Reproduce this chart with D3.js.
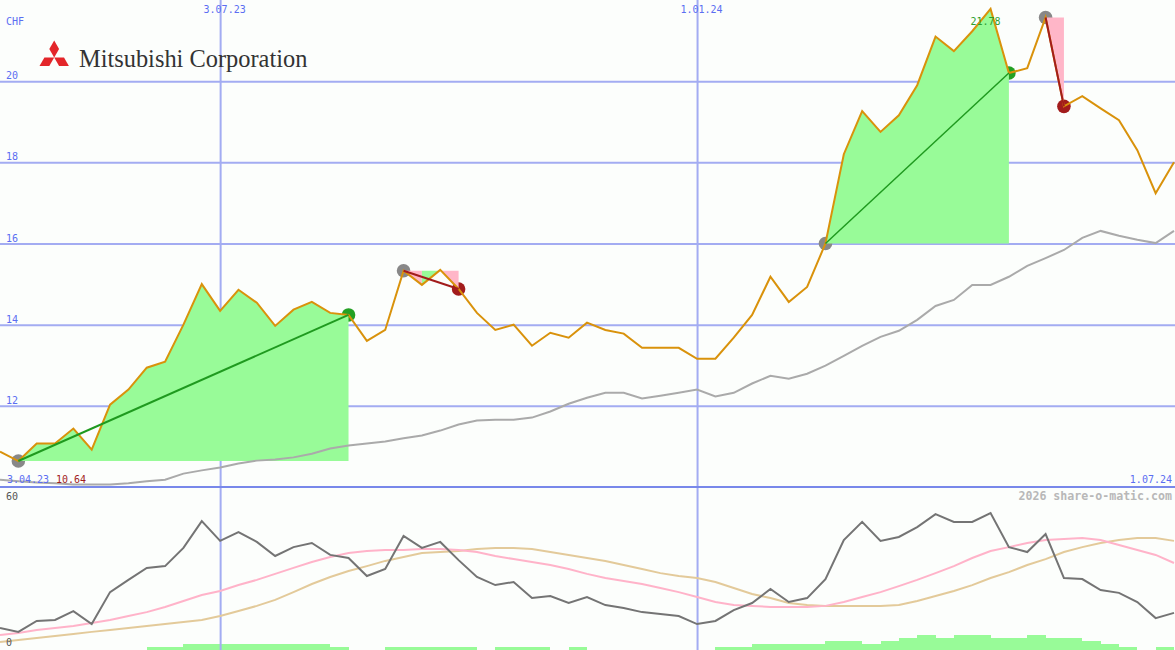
<!DOCTYPE html>
<html><head><meta charset="utf-8">
<script src="https://cdn.jsdelivr.net/npm/d3@7"></script>
<style>html,body{margin:0;padding:0;background:#fcfefc;overflow:hidden}</style>
</head><body><svg id="c" width="1175" height="650"></svg>
<script>
// ---- data ----
const dates = ["2023-04-10","2023-04-17","2023-04-24","2023-05-01","2023-05-08","2023-05-15","2023-05-22","2023-05-29",
"2023-06-05","2023-06-12","2023-06-19","2023-06-26","2023-07-03","2023-07-10","2023-07-17","2023-07-24","2023-07-31",
"2023-08-07","2023-08-14","2023-08-21","2023-08-28","2023-09-04","2023-09-11","2023-09-18","2023-09-25","2023-10-02",
"2023-10-09","2023-10-16","2023-10-23","2023-10-30","2023-11-06","2023-11-13","2023-11-20","2023-11-27","2023-12-04",
"2023-12-11","2023-12-18","2023-12-25","2024-01-01","2024-01-08","2024-01-15","2024-01-22","2024-01-29","2024-02-05",
"2024-02-12","2024-02-19","2024-02-26","2024-03-04","2024-03-11","2024-03-18","2024-03-25","2024-04-01","2024-04-08",
"2024-04-15","2024-04-22","2024-04-29","2024-05-06","2024-05-13","2024-05-20","2024-05-27","2024-06-03","2024-06-10",
"2024-06-17","2024-06-24","2024-07-01"];
const price = [10.87,10.64,11.07,11.07,11.44,10.92,12.03,12.40,12.94,13.09,
14.0,15.0,14.34,14.86,14.54,13.97,14.37,14.56,14.29,14.24,
13.60,13.87,15.33,14.98,15.35,14.88,14.29,13.87,14.0,13.48,
13.80,13.68,14.05,13.87,13.78,13.43,13.43,13.43,13.16,13.16,
13.68,14.24,15.18,14.56,14.93,16.0,18.2,19.26,18.75,19.16,
19.9,21.1,20.74,21.23,21.78,20.2,20.32,21.57,19.38,19.63,
19.33,19.04,18.3,17.24,18.0];
const priceAvg = [10.18,10.14,10.11,10.09,10.06,10.06,10.06,10.09,10.14,10.18,
10.33,10.41,10.48,10.58,10.65,10.68,10.73,10.82,10.95,11.02,
11.07,11.12,11.20,11.27,11.39,11.54,11.64,11.66,11.66,11.71,
11.86,12.05,12.20,12.32,12.32,12.18,12.25,12.32,12.40,12.23,
12.32,12.55,12.74,12.67,12.79,12.99,13.23,13.48,13.70,13.85,
14.12,14.46,14.61,14.98,14.98,15.18,15.45,15.64,15.84,16.14,
16.31,16.19,16.09,16.01,16.31];
const oscMain = [7.7,6.2,10.4,10.8,14.2,9.2,21.5,26.2,30.8,31.5,
38.5,48.8,41.2,44.6,40.8,35.4,38.8,40.4,35.8,34.6,
27.7,30.4,43.1,38.5,40.8,33.8,27.3,24.2,25.4,19.2,
20.0,17.3,19.6,16.5,15.4,13.8,13.1,12.3,9.2,10.4,
14.6,17.3,22.7,17.7,19.2,26.5,41.5,48.5,41.2,42.7,
46.5,51.5,48.5,48.5,51.9,38.8,36.9,43.8,26.9,26.5,
22.3,21.2,17.7,11.5,13.5];
const oscPink = [5.0,5.8,6.9,7.7,8.5,9.6,10.8,12.3,13.8,15.8,
18.1,20.4,21.9,24.2,26.2,28.5,30.8,33.1,35.0,36.5,
37.3,37.7,37.7,38.1,38.1,37.7,36.9,35.4,34.2,33.1,
31.9,30.4,28.5,26.9,25.8,24.6,23.1,21.5,19.6,17.7,
16.5,16.2,15.8,15.8,15.8,16.2,17.7,19.6,21.5,23.8,
26.2,28.8,31.5,34.6,37.3,38.8,40.4,41.5,41.9,42.3,
41.5,39.6,37.7,35.8,32.7];
const oscTan = [2.3,3.1,3.8,4.6,5.4,6.2,6.9,7.7,8.5,9.2,
10.0,10.8,12.3,14.2,16.2,18.5,21.5,24.6,27.3,29.6,
31.5,33.5,35.0,36.5,36.9,37.3,38.1,38.5,38.5,38.1,
36.9,35.8,34.6,33.5,31.9,30.4,28.8,27.7,26.9,25.4,
23.1,20.8,19.2,17.3,16.5,16.2,16.2,16.2,16.2,16.5,
18.1,20.0,21.9,24.2,26.9,29.2,31.9,34.2,36.9,38.8,
40.4,41.5,42.3,42.3,41.2];
const barLevels = [0,0,0,0,0,0,0,0,1,1,2,2,2,2,2,2,2,2,1,0,0,1,1,1,1,1,0,1,1,1,0,1,
0,0,0,0,0,0,0,1,1,2,2,2,2,3,3,2,3,4,5,4,5,5,4,4,5,4,4,3,2,1,0,1];
const tradeBuy = [1,22,45,57];
const tradeSell = [19,25,55,58];
const priceTicks = [12,14,16,18,20];
const dateTicks = ["2023-07-03","2024-01-01"];
const dateTickLabels = ["3.07.23","1.01.24"];
const startLabel = "3.04.23", endLabel = "1.07.24", currency = "CHF";
const oscLabels = [60,0];

// ---- setup ----
const W = 1175, H = 650;
const parse = d3.utcParse("%Y-%m-%d");
const D = dates.map(parse);
const svg = d3.select("#c");
const mono = "'DejaVu Sans Mono', monospace";

const x = d3.scaleUtc().domain([D[0], D[D.length-1]]).range([0, 1174]);
const y = d3.scaleLinear().domain([10, 22]).range([487, 0]);
const y2 = d3.scaleLinear().domain([0, 60]).range([648, 492]);
const yb = d3.scaleLinear().domain([0, 5]).range([650, 635]);

svg.append("rect").attr("width", W).attr("height", H).attr("fill", "#fcfefc");

// bars (lower panel)
svg.append("g").selectAll("rect").data(barLevels.map((v,i)=>({v,i})).filter(d=>d.v>0)).join("rect")
  .attr("x", d=>x(D[d.i])).attr("width", d=>x(D[d.i+1]) - x(D[d.i]))
  .attr("y", d=>yb(d.v)).attr("height", d=>yb(0)-yb(d.v))
  .attr("fill", "#98fb98").attr("shape-rendering","crispEdges");

// horizontal grid (price)
const gy = svg.append("g").call(d3.axisRight(y).tickValues(priceTicks).tickSize(W).tickFormat(d3.format("d")));
gy.select(".domain").remove();
gy.selectAll(".tick line").attr("stroke", "#a3acf2").attr("stroke-width", 2);
gy.selectAll(".tick text").attr("x", 6).attr("dy", "-2.5").attr("text-anchor","start")
  .attr("fill", "#5b6ef2").style("font", "10px " + mono);

// vertical grid (dates)
const gx = svg.append("g").call(d3.axisTop(x).tickValues(dateTicks.map(parse)).tickSize(-H)
  .tickFormat((d,i)=>dateTickLabels[i]));
gx.select(".domain").remove();
gx.selectAll(".tick line").attr("stroke", "#a3acf2").attr("stroke-width", 2);
gx.selectAll(".tick text").attr("y", 13).attr("dy", null).attr("dx", 4).attr("text-anchor","middle")
  .attr("fill", "#5b6ef2").style("font", "10px " + mono);

// panel separator
svg.append("line").attr("x1",0).attr("x2",W).attr("y1",y(10)).attr("y2",y(10))
  .attr("stroke","#7888ea").attr("stroke-width",2);

// lower panel lines
const lineOsc = arr => d3.line().x((d,i)=>x(D[i])).y(d=>y2(d))(arr);
svg.append("path").attr("d", lineOsc(oscTan)).attr("fill","none").attr("stroke","#e3ca9a").attr("stroke-width",2);
svg.append("path").attr("d", lineOsc(oscPink)).attr("fill","none").attr("stroke","#ffb3c9").attr("stroke-width",2);
svg.append("path").attr("d", lineOsc(oscMain)).attr("fill","none").attr("stroke","#747474").attr("stroke-width",2);

// trade markers (under the fills)
const green = "#23a023", red = "#a21c1c", gray = "#888888";
tradeBuy.forEach((b,k)=>{
  const s = tradeSell[k];
  svg.append("circle").attr("cx", x(D[b])).attr("cy", y(price[b])).attr("r", 6.8).attr("fill", gray);
  svg.append("circle").attr("cx", x(D[s])).attr("cy", y(price[s])).attr("r", 6.8)
    .attr("fill", price[s] >= price[b] ? green : red);
});

// trade fills, split into runs of the same colour
tradeBuy.forEach((b,k)=>{
  const s = tradeSell[k], base = price[b];
  let runs = [], cur = null;
  for (let j=b; j<s; j++){
    const up = price[j+1] >= base;
    if (!cur || cur.up !== up){ cur = {up, idx:[j]}; runs.push(cur); }
    cur.idx.push(j+1);
  }
  runs.forEach(r=>{
    const area = d3.area().x(i=>x(D[i])).y0(y(base)).y1(i=>y(price[i]));
    svg.append("path").attr("d", area(r.idx)).attr("fill", r.up ? "#98fb98" : "#ffb6c8");
  });
});

// long average line
svg.append("path").attr("d", d3.line().x((d,i)=>x(D[i])).y(d=>y(d))(priceAvg))
  .attr("fill","none").attr("stroke","#aaaaaa").attr("stroke-width",2);

// price line
svg.append("path").attr("d", d3.line().x((d,i)=>x(D[i])).y(d=>y(d))(price))
  .attr("fill","none").attr("stroke","#d9920b").attr("stroke-width",2).attr("stroke-linejoin","miter");

// trade connecting lines
tradeBuy.forEach((b,k)=>{
  const s = tradeSell[k];
  svg.append("line").attr("x1", x(D[b])).attr("y1", y(price[b])).attr("x2", x(D[s])).attr("y2", y(price[s]))
    .attr("stroke", price[s] >= price[b] ? "#1f9a1f" : red).attr("stroke-width", k===2 ? 1.5 : 2);
});

// max label
const iMax = d3.maxIndex(price), iMin = d3.minIndex(price);
svg.append("text").attr("x", x(D[iMax]) - 5).attr("y", y(price[iMax]) + 16).attr("text-anchor","middle")
  .attr("fill", "#2e9e2e").style("font","10px " + mono).text(price[iMax].toFixed(2));

// texts
const T = (tx,ty,str,fill,anchor,font)=>svg.append("text").attr("x",tx).attr("y",ty).attr("fill",fill)
  .attr("text-anchor",anchor||"start").style("font", font || ("10px " + mono)).text(str);
T(6, 25, currency, "#5b6ef2");
T(7, 483, startLabel, "#5b6ef2");
T(56, 483, price[iMin].toFixed(2), "#a21c1c");
T(1172, 483, endLabel, "#5b6ef2", "end");
T(1172, 500, "2026 share-o-matic.com", "#b8b8b8", "end", "bold 11.6px " + mono);
T(6, 500, String(oscLabels[0]), "#555555");
T(6, 646, String(oscLabels[1]), "#555555");

// logo
const lg = svg.append("g").attr("transform","translate(54.2,57.5)");
const s = 9.8, h = s*Math.sqrt(3)/2;
const rh = [[0,0],[s/2,-h],[0,-2*h],[-s/2,-h]];
[0,120,240].forEach(a=>lg.append("path").attr("d", d3.line()(rh)+"Z").attr("fill","#e3262a")
  .attr("transform","rotate("+a+")"));
svg.append("text").attr("x",79).attr("y",67).attr("fill","#333333")
  .style("font","24.4px 'Liberation Serif', 'Times New Roman', serif").text("Mitsubishi Corporation");
</script></body></html>
